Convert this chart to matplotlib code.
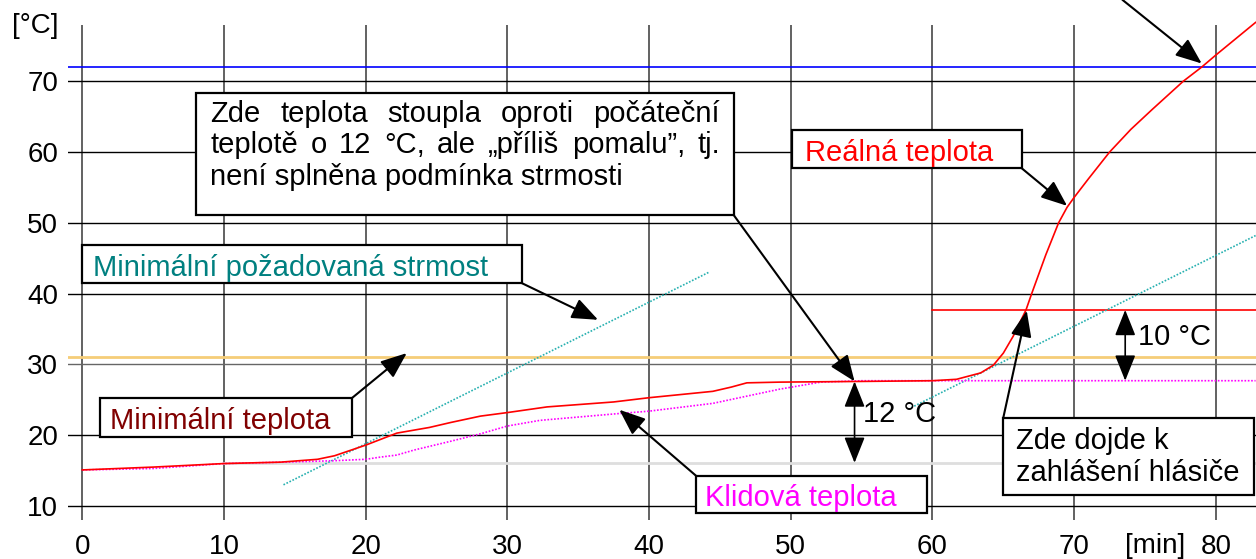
import matplotlib
matplotlib.use("Agg")
import matplotlib.pyplot as plt
from matplotlib.patches import Rectangle

plt.rcParams['font.family'] = ['Liberation Sans', 'DejaVu Sans']

# real temperature (min, degC)
real_t = [0, 5, 10, 14, 16.6, 17.8, 20, 22.2, 24.5, 26, 28.1, 30, 32.8, 37.5,
          40, 44.5, 45.8, 46.9, 49.2, 55, 60, 61.7, 63.4, 64.3, 65.0, 65.7,
          66.6, 67.0, 67.4, 68.0, 68.9, 69.5, 70, 71, 72.5, 74, 75.5, 77.7,
          79, 80, 81.4, 82.8]
real_v = [15.1, 15.5, 16.0, 16.2, 16.6, 17.1, 18.6, 20.3, 21.1, 21.8, 22.7,
          23.2, 24.0, 24.7, 25.3, 26.2, 26.8, 27.4, 27.5, 27.6, 27.7, 27.9,
          28.8, 29.9, 31.6, 34.0, 37.7, 40.0, 42.2, 45.5, 50.0, 52.2, 53.6,
          56.2, 60.0, 63.2, 66.0, 70.0, 72.0, 73.7, 76.0, 78.3]

# rest temperature
rest_t = [0, 5, 10, 14.2, 17.8, 20, 21, 22.2, 23.4, 25.9, 28.1, 30, 32.3,
          37.5, 40, 44.5, 49.2, 52.1, 55, 82.8]
rest_v = [15.1, 15.3, 16.0, 16.2, 16.4, 16.6, 16.9, 17.2, 17.9, 19.1, 20.2,
          21.3, 22.1, 23.0, 23.4, 24.5, 26.5, 27.5, 27.7, 27.7]

# minimal required slope (two segments)
slope1_t = [14.2, 44.2]
slope1_v = [13.0, 43.0]
slope2_t = [58.5, 82.8]
slope2_v = [23.9, 48.2]

# horizontal levels
lvl_blue = 72.0
lvl_orange = 31.0
lvl_gray = 16.1
lvl_alarm = 37.7

xticks = [0, 10, 20, 30, 40, 50, 60, 70, 80]
yticks = [10, 20, 30, 40, 50, 60, 70]

fig = plt.figure(figsize=(12.56, 5.59), dpi=100)
ax = fig.add_axes([0.0541, 0.0703, 0.9459, 0.8850])
ax.set_xlim(-1.01, 82.83)
ax.set_ylim(8.07, 77.94)
for s in ax.spines.values():
    s.set_visible(False)
ax.set_xticks(xticks)
ax.set_yticks(yticks)
ax.tick_params(axis='both', length=0, labelsize=20)
ax.tick_params(axis='x', pad=10)
ax.tick_params(axis='y', pad=7)

for x in xticks:
    ax.axvline(x, color='#555555', lw=1.3, zorder=1)
for y in yticks:
    ax.axhline(y, color='#666666' if y == 30 else 'black', lw=1.0, zorder=1)

ax.axhline(lvl_blue, color='#0000ff', lw=1.2, zorder=2)
ax.axhline(lvl_orange, color='#f5cd78', lw=2, zorder=2)
ax.plot([10, 82.83], [lvl_gray, lvl_gray], color='#dedede', lw=2, zorder=2)
ax.plot([60, 82.83], [lvl_alarm, lvl_alarm], color='#ff0000', lw=1.2, zorder=3)

ax.plot(slope1_t, slope1_v, color='#26b0b0', lw=1.2, ls=(0, (1, 1)), zorder=3)
ax.plot(slope2_t, slope2_v, color='#26b0b0', lw=1.2, ls=(0, (1, 1)), zorder=3)
ax.plot(rest_t, rest_v, color='#ff00ff', lw=1.2, ls=(0, (1, 1)), zorder=3)
ax.plot(real_t, real_v, color='#ff0000', lw=1.2, zorder=4, clip_on=False)

ax.text(75.7, 4.4, '[min]', fontsize=20, ha='center', va='center')
ax.annotate('[°C]', xy=(0, 77.8), xycoords=('axes fraction', 'data'),
            xytext=(-7, 0), textcoords='offset points',
            ha='right', va='center', fontsize=20)


def box(x0, x1, y0, y1):
    ax.add_patch(Rectangle((x0, y0), x1 - x0, y1 - y0, facecolor='white',
                           edgecolor='black', lw=1.6, zorder=5, clip_on=False))


def arrow(p_from, p_to):
    ax.annotate('', xy=p_to, xytext=p_from, annotation_clip=False, zorder=7,
                arrowprops=dict(arrowstyle='-|>,head_length=0.8,head_width=0.32',
                                mutation_scale=20, lw=1.5, color='black',
                                shrinkA=0, shrinkB=0))


def darrow(x, y0, y1):
    ax.annotate('', xy=(x, y1), xytext=(x, y0), zorder=7,
                arrowprops=dict(arrowstyle='<|-|>,head_length=0.8,head_width=0.32',
                                mutation_scale=20, lw=1.2, color='black',
                                shrinkA=0, shrinkB=0))


def justify(words, x0, x1, y, **kw):
    r = fig.canvas.get_renderer()
    ts = [ax.text(x0, y, w, **kw) for w in words]
    ws = [t.get_window_extent(r).width for t in ts]
    X0 = ax.transData.transform((x0, y))[0]
    X1 = ax.transData.transform((x1, y))[0]
    gap = (X1 - X0 - sum(ws)) / (len(ws) - 1)
    inv = ax.transData.inverted()
    pos = X0
    for t, w in zip(ts, ws):
        t.set_x(inv.transform((pos, 0))[0])
        pos += w + gap


fs = 21
tk = dict(fontsize=fs, va='baseline', ha='left', zorder=6)

# main note box
box(8.04, 45.97, 51.1, 68.4)
justify("Zde teplota stoupla oproti počáteční".split(), 9.04, 45.0, 64.2, **tk)
justify("teplotě o 12 °C, ale „příliš pomalu”, tj.".split(), 9.04, 45.0, 59.8, **tk)
ax.text(9.04, 55.3, "není splněna podmínka strmosti", **tk)
arrow((45.97, 51.1), (54.5, 27.6))

# slope
box(0, 31.0, 41.5, 46.9)
ax.text(0.78, 42.5, "Minimální požadovaná strmost", color='#008080', **tk)
arrow((31.0, 41.5), (36.4, 36.3))

# minimal temperature
box(1.26, 19.0, 19.7, 25.2)
ax.text(1.96, 20.9, "Minimální teplota", color='#800000', **tk)
arrow((19.0, 25.2), (22.9, 31.6))

# real temperature
box(50.1, 66.3, 57.7, 63.1)
ax.text(51.0, 58.8, "Reálná teplota", color='#ff0000', **tk)
arrow((66.3, 57.7), (69.5, 52.4))

# rest temperature
box(43.3, 59.6, 8.97, 14.3)
ax.text(43.95, 10.04, "Klidová teplota", color='#ff00ff', **tk)
arrow((43.3, 14.3), (37.9, 23.6))

# alarm
box(65.0, 82.7, 11.55, 22.5)
ax.text(65.9, 18.0, "Zde dojde k", **tk)
ax.text(65.9, 13.5, "zahlášení hlásiče", **tk)
arrow((65.0, 22.5), (66.65, 37.6))

# arrow from outside (top)
arrow((73.4, 81.5), (79.0, 72.5))

darrow(54.5, 27.6, 16.1)
ax.text(55.1, 21.8, "12 °C", **tk)
darrow(73.6, 37.7, 27.7)
ax.text(74.5, 32.7, "10 °C", **tk)

fig.savefig("out.png", dpi=100)
